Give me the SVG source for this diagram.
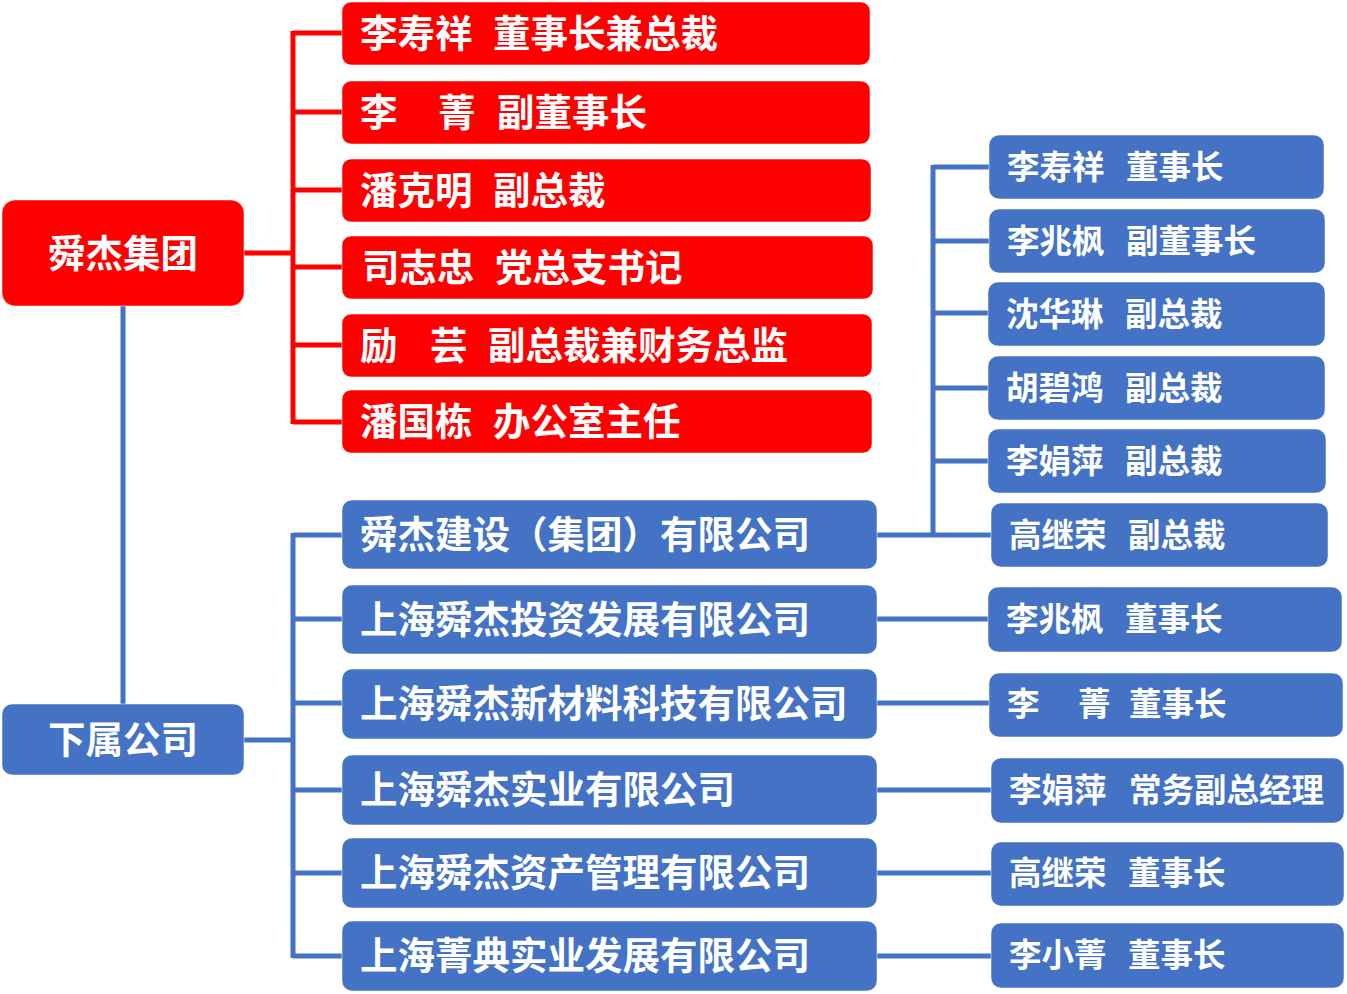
<svg xmlns="http://www.w3.org/2000/svg" width="1347" height="994" viewBox="0 0 1347 994">
<style>
.r{fill:#FF0000;stroke:#ffffff;stroke-opacity:0.5;stroke-width:1}
.b{fill:#4472C4;stroke:#ffffff;stroke-opacity:0.5;stroke-width:1}
.t{fill:#ffffff;font-family:"Noto Sans CJK SC","Noto Sans CJK JP",sans-serif;font-weight:bold}
.t37{font-size:37.5px}
.t32{font-size:32.5px}
.lr{fill:none;stroke:#FF0000;stroke-width:5}
.lb{fill:none;stroke:#4472C4;stroke-width:5}
</style>
<rect width="1347" height="994" fill="#ffffff"/>
<g id="connectors">
<path class="lr" d="M244 253H293M293 31V424M293 33H342M293 112H342M293 190H342M293 267H342M293 345H342M293 422H342"/>
<path class="lb" d="M123 306V704M244 740H293M293 533V958M293 535H342M293 619H342M293 703H342M293 790H342M293 873H342M293 956H342"/>
<path class="lb" d="M877 535H991M933 165V537M933 167H989M933 241H989M933 313H989M933 388H989M933 461H989"/>
<path class="lb" d="M877 619H988M877 703H989M877 790H991M877 873H991M877 956H991"/>
</g>
<g id="n-group"><rect class="r" x="2" y="200" width="242" height="106" rx="13"/><text class="t t37" x="123" y="267" text-anchor="middle">舜杰集团</text></g>
<g id="n-sub"><rect class="b" x="2" y="704" width="242" height="71" rx="10"/><text class="t t37" x="123" y="753" text-anchor="middle">下属公司</text></g>

<g id="n-r1"><rect class="r" x="342" y="2" width="528" height="63" rx="9"/><text class="t t37" x="360" y="47">李寿祥<tspan x="493">董事长兼总裁</tspan></text></g>
<g id="n-r2"><rect class="r" x="342" y="81" width="528" height="63" rx="9"/><text class="t t37" x="360" y="126">李<tspan x="438">菁</tspan><tspan x="497">副董事长</tspan></text></g>
<g id="n-r3"><rect class="r" x="342" y="159" width="529" height="63" rx="9"/><text class="t t37" x="360" y="204">潘克明<tspan x="493">副总裁</tspan></text></g>
<g id="n-r4"><rect class="r" x="342" y="236" width="531" height="63" rx="9"/><text class="t t37" x="362" y="281">司志忠<tspan x="495">党总支书记</tspan></text></g>
<g id="n-r5"><rect class="r" x="342" y="314" width="530" height="63" rx="9"/><text class="t t37" x="360" y="359">励<tspan x="430">芸</tspan><tspan x="488">副总裁兼财务总监</tspan></text></g>
<g id="n-r6"><rect class="r" x="342" y="390" width="530" height="63" rx="9"/><text class="t t37" x="360" y="435">潘国栋<tspan x="493">办公室主任</tspan></text></g>

<g id="n-c1"><rect class="b" x="342" y="500" width="535" height="69" rx="10"/><text class="t t37" x="360" y="548">舜杰建设（集团）有限公司</text></g>
<g id="n-c2"><rect class="b" x="342" y="585" width="535" height="69" rx="10"/><text class="t t37" x="360" y="633">上海舜杰投资发展有限公司</text></g>
<g id="n-c3"><rect class="b" x="342" y="669" width="535" height="70" rx="10"/><text class="t t37" x="360" y="717">上海舜杰新材料科技有限公司</text></g>
<g id="n-c4"><rect class="b" x="342" y="755" width="535" height="70" rx="10"/><text class="t t37" x="360" y="803">上海舜杰实业有限公司</text></g>
<g id="n-c5"><rect class="b" x="342" y="838" width="535" height="70" rx="10"/><text class="t t37" x="360" y="886">上海舜杰资产管理有限公司</text></g>
<g id="n-c6"><rect class="b" x="342" y="921" width="535" height="70" rx="10"/><text class="t t37" x="360" y="969">上海菁典实业发展有限公司</text></g>

<g id="n-p1"><rect class="b" x="989" y="135" width="335" height="64" rx="10"/><text class="t t32" x="1007" y="179">李寿祥<tspan x="1126">董事长</tspan></text></g>
<g id="n-p2"><rect class="b" x="989" y="209" width="336" height="64" rx="10"/><text class="t t32" x="1007" y="253">李兆枫<tspan x="1126">副董事长</tspan></text></g>
<g id="n-p3"><rect class="b" x="988" y="282" width="337" height="64" rx="10"/><text class="t t32" x="1006" y="326">沈华琳<tspan x="1125">副总裁</tspan></text></g>
<g id="n-p4"><rect class="b" x="988" y="356" width="337" height="64" rx="10"/><text class="t t32" x="1006" y="400">胡碧鸿<tspan x="1125">副总裁</tspan></text></g>
<g id="n-p5"><rect class="b" x="988" y="429" width="338" height="64" rx="10"/><text class="t t32" x="1006" y="473">李娟萍<tspan x="1125">副总裁</tspan></text></g>
<g id="n-p6"><rect class="b" x="991" y="503" width="337" height="64" rx="10"/><text class="t t32" x="1009" y="547">高继荣<tspan x="1128">副总裁</tspan></text></g>

<g id="n-q1"><rect class="b" x="988" y="587" width="354" height="65" rx="10"/><text class="t t32" x="1006" y="631">李兆枫<tspan x="1125">董事长</tspan></text></g>
<g id="n-q2"><rect class="b" x="989" y="673" width="354" height="64" rx="10"/><text class="t t32" x="1007" y="716">李<tspan x="1078">菁</tspan><tspan x="1129">董事长</tspan></text></g>
<g id="n-q3"><rect class="b" x="991" y="758" width="353" height="65" rx="10"/><text class="t t32" x="1009" y="802">李娟萍<tspan x="1129">常务副总经理</tspan></text></g>
<g id="n-q4"><rect class="b" x="991" y="842" width="353" height="64" rx="10"/><text class="t t32" x="1009" y="885">高继荣<tspan x="1128">董事长</tspan></text></g>
<g id="n-q5"><rect class="b" x="991" y="923" width="353" height="65" rx="10"/><text class="t t32" x="1009" y="967">李小菁<tspan x="1128">董事长</tspan></text></g>
</svg>
